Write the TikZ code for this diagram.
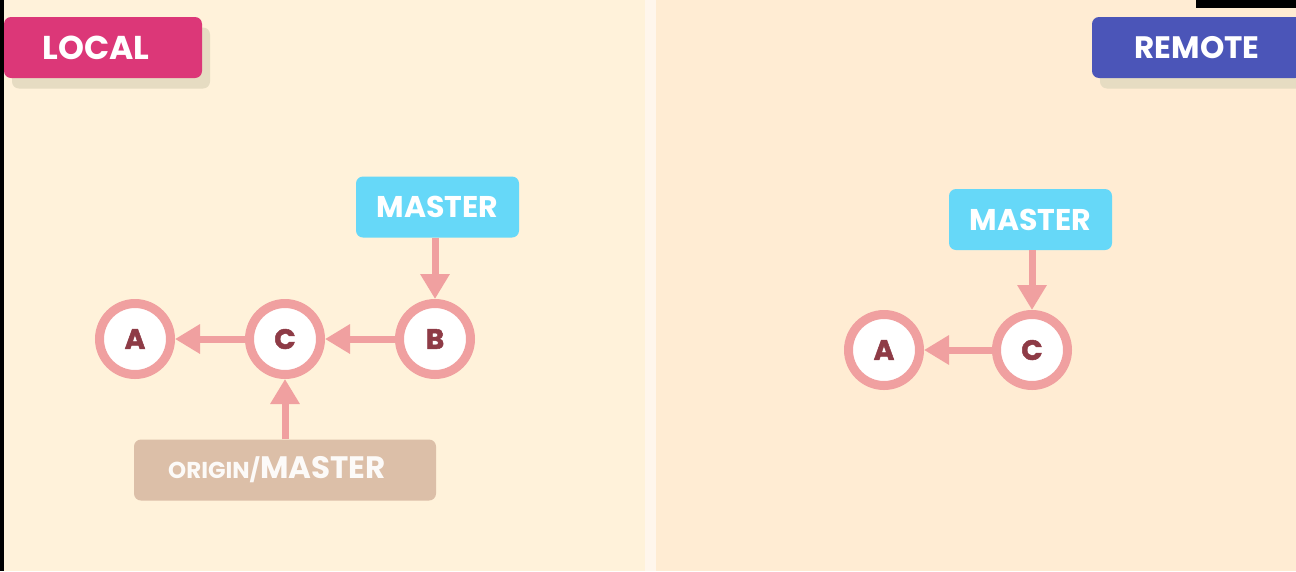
\documentclass[tikz,border=0pt]{standalone}
\usepackage{fontspec}
\newfontfamily\pop{Poppins}
\newfontfamily\popfb{Poppins}[BoldFeatures={FakeBold=1.8}]
\usetikzlibrary{arrows.meta}
\definecolor{bgL}{HTML}{FFF2DA}
\definecolor{bgR}{HTML}{FFECD3}
\definecolor{divc}{HTML}{FFF6EC}
\definecolor{localc}{HTML}{DC3778}
\definecolor{remotec}{HTML}{4B55B8}
\definecolor{shadowc}{HTML}{E6DCC2}
\definecolor{masterc}{HTML}{66D8F8}
\definecolor{originc}{HTML}{DCBFA8}
\definecolor{ringc}{HTML}{F0A0A0}
\definecolor{letterc}{HTML}{8E3B46}
\tikzset{
  tagbox/.style={rectangle, rounded corners=7pt, minimum width=#1, minimum height=61pt, inner sep=0pt},
  shadowbox/.style={tagbox=#1, fill=shadowc},
  commit/.style={circle, draw=ringc, line width=9pt, fill=white, minimum size=71pt, inner sep=0pt,
    text=letterc, font=\popfb\bfseries\fontsize{28}{28}\selectfont},
  tagtext/.style={text=white, font=\pop\bfseries\fontsize{#1}{#1}\selectfont, inner sep=0pt},
  arr/.style={draw=ringc, line width=7pt, -{Triangle[width=28pt,length=25pt]}}
}
\begin{document}
\begin{tikzpicture}[x=1pt,y=-1pt]
\useasboundingbox (0,0) rectangle (1296,571);
% backgrounds
\fill[bgL] (0,0) rectangle (645,571);
\fill[bgR] (656,0) rectangle (1296,571);
\fill[divc] (645,0) rectangle (656,571);
% LOCAL tag
\node[shadowbox=198pt] (localsh) at (111,58) {};
\node[tagbox=198pt, fill=localc] (localbox) at (103,47.5) {};
\fill[black] (0,0) rectangle (4,571);
\node[tagtext=33] (localtxt) at (96,47.5) {LOCAL};
% REMOTE tag
\node[shadowbox=210pt] (remotesh) at (1205,58) {};
\node[tagbox=210pt, fill=remotec] (remotebox) at (1197,47.5) {};
\fill[black] (1196,0) rectangle (1296,8);
\node[tagtext=31] (remotetxt) at (1197,47.5) {REMOTE};
% local graph
\node[commit] (lA) at (135,339) {A};
\node[commit] (lC) at (285,339) {C};
\node[commit] (lB) at (435,339) {B};
\node[tagbox=163pt, fill=masterc, tagtext=30] (lM) at (437.5,207) {MASTER};
\node[tagbox=302pt, fill=originc, text=white!92!originc, font=\pop\bfseries] (lO) at (285,470)
  {\fontsize{23}{23}\selectfont ORIGIN/\fontsize{31}{31}\selectfont MASTER\kern16pt};
\draw[arr] (lC) -- (lA);
\draw[arr] (lB) -- (lC);
\draw[arr] (lB |- lM.south) -- (lB);
\draw[arr] (lO) -- (lC);
% remote graph
\node[commit] (rA) at (884,350) {A};
\node[commit] (rC) at (1032,350) {C};
\node[tagbox=163pt, fill=masterc, tagtext=30] (rM) at (1030.5,219.5) {MASTER};
\draw[arr] (rC) -- (rA);
\draw[arr] (rC |- rM.south) -- (rC);
\end{tikzpicture}
\end{document}
